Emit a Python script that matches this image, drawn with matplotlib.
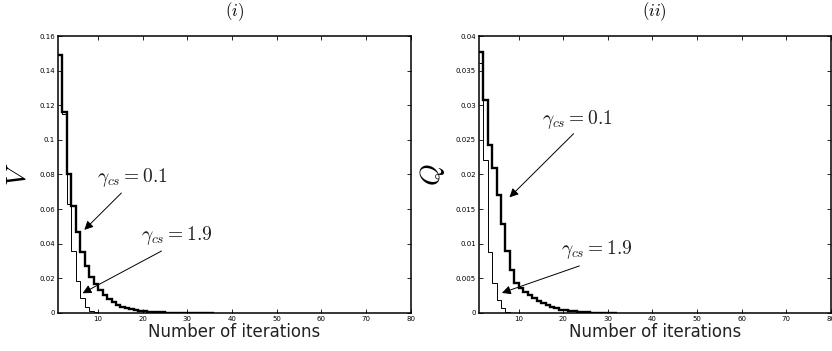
import numpy as np
import matplotlib
matplotlib.use("Agg")
import matplotlib.pyplot as plt

plt.rcParams["mathtext.fontset"] = "cm"
plt.rcParams["font.family"] = ["DejaVu Sans"]

# V (panel i), one value per iteration starting at iteration 1
v_gamma_01 = [0.149, 0.116, 0.080, 0.062, 0.047, 0.0355, 0.027, 0.021, 0.0165, 0.0133,
              0.0103, 0.0080, 0.0062, 0.0047, 0.0036, 0.0028, 0.0021, 0.0016, 0.0013, 0.0010,
              0.0008, 0.0006, 0.00045, 0.00035, 0.00027, 0.0002, 0.00015, 0.0001, 0.00008, 0.00006,
              0.00004, 0.00003, 0.00002, 0.00001, 0.0]
v_gamma_19 = [0.149, 0.115, 0.063, 0.036, 0.0185, 0.0087, 0.0035, 0.0012, 0.0004, 0.0001,
              0.00003, 0.0]

# Q (panel ii)
q_gamma_01 = [0.0377, 0.0307, 0.0243, 0.0209, 0.0170, 0.0128, 0.0090, 0.0062, 0.0043, 0.0036,
              0.0030, 0.0026, 0.0021, 0.0017, 0.0014, 0.0011, 0.0009, 0.0007, 0.0005, 0.0004,
              0.0003, 0.00022, 0.00016, 0.00012, 0.00009, 0.00006, 0.00004, 0.00003, 0.00002, 0.00001,
              0.0]
q_gamma_19 = [0.0361, 0.0221, 0.0088, 0.0043, 0.0019, 0.0007, 0.0002, 0.00005, 0.0]

x_ticks = [10, 20, 30, 40, 50, 60, 70, 80]
v_ticks = [0, 0.02, 0.04, 0.06, 0.08, 0.1, 0.12, 0.14, 0.16]
v_tick_labels = ["0", "0.02", "0.04", "0.06", "0.08", "0.1", "0.12", "0.14", "0.16"]
q_ticks = [0, 0.005, 0.01, 0.015, 0.02, 0.025, 0.03, 0.035, 0.04]
q_tick_labels = ["0", "0.005", "0.01", "0.015", "0.02", "0.025", "0.03", "0.035", "0.04"]


def draw_panel(ax, thick, thin, yticks, yticklabels, ylabel, title, notes):
    ax.stairs(thick, np.arange(1, len(thick) + 2), color="black", lw=1.7, baseline=None)
    ax.stairs(thin, np.arange(1, len(thin) + 2), color="black", lw=0.7, baseline=None)

    ax.set_xlim(1, 80)
    ax.set_ylim(yticks[0], yticks[-1])
    ax.set_xticks(x_ticks)
    ax.set_yticks(yticks)
    ax.set_yticklabels(yticklabels)
    ax.tick_params(direction="in", length=3, width=0.6, labelsize=5,
                   top=True, right=True, pad=2)
    for s in ax.spines.values():
        s.set_linewidth(1.1)

    ax.set_xlabel("Number of iterations", fontsize=12, labelpad=1, color="#222222")
    ax.set_ylabel(ylabel, fontsize=20, labelpad=6)
    ax.set_title(title, fontsize=12, pad=14)

    for label, text_xy, start, tip in notes:
        ax.text(text_xy[0], text_xy[1], label, fontsize=14, ha="center", va="center",
                color="#222222")
        ax.annotate("", xy=tip, xytext=start,
                    arrowprops=dict(arrowstyle="-|>", color="black", lw=0.7,
                                    mutation_scale=13, shrinkA=0, shrinkB=0))


fig = plt.figure(figsize=(8.32, 3.51), dpi=100)
ax1 = fig.add_axes([0.0697, 0.1083, 0.4237, 0.7891])
ax2 = fig.add_axes([0.5754, 0.1083, 0.4230, 0.7891])

draw_panel(ax1, v_gamma_01, v_gamma_19, v_ticks, v_tick_labels, r"$V$", r"$(i)$",
           [(r"$\gamma_{cs} = 0.1$", (17.7, 0.078), (15.2, 0.0693), (6.9, 0.048)),
            (r"$\gamma_{cs} = 1.9$", (27.6, 0.045), (24.2, 0.0358), (6.5, 0.0114))])
draw_panel(ax2, q_gamma_01, q_gamma_19, q_ticks, q_tick_labels, r"$Q$", r"$(ii)$",
           [(r"$\gamma_{cs} = 0.1$", (23.1, 0.028), (22.3, 0.0259), (7.9, 0.0167)),
            (r"$\gamma_{cs} = 1.9$", (27.6, 0.0091), (23.6, 0.0068), (6.2, 0.0029))])

fig.savefig("out.png", dpi=100)
